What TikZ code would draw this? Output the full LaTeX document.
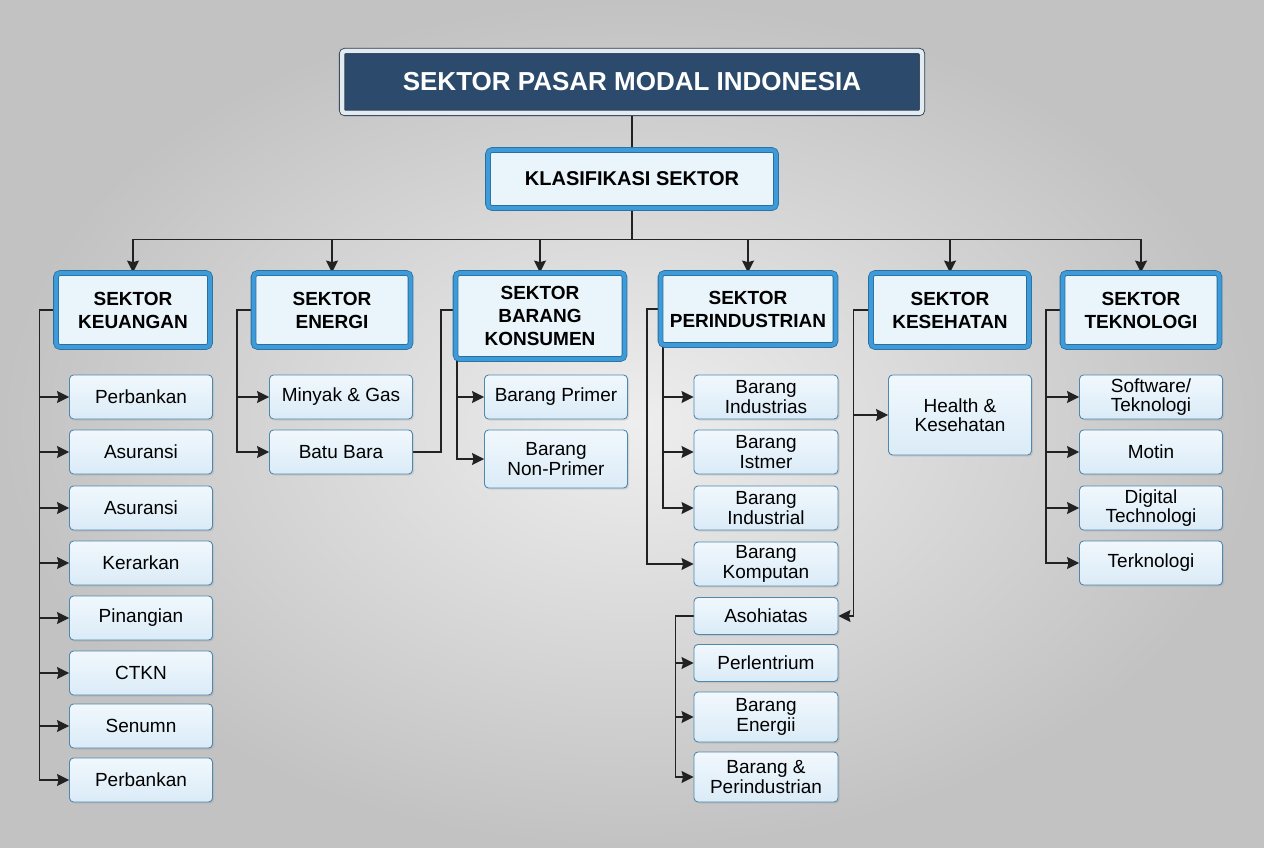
\documentclass[tikz,border=0pt]{standalone}
\usepackage{fontspec}
\setmainfont{Liberation Sans}
\usetikzlibrary{arrows.meta,positioning,shadows,backgrounds}

\definecolor{bgcenter}{HTML}{EEEEEE}
\definecolor{bgedge}{HTML}{C2C2C2}
\definecolor{navy}{HTML}{2C4B6C}
\definecolor{navyring}{HTML}{E3EBF1}
\definecolor{navyline}{HTML}{26394D}
\definecolor{biru}{HTML}{3C9BD8}
\definecolor{birugelap}{HTML}{2B6E9E}
\definecolor{isi}{HTML}{EAF4FB}
\definecolor{isiatas}{HTML}{F1F8FD}
\definecolor{isibawah}{HTML}{DAEBF7}
\definecolor{tepi}{HTML}{4F87AF}
\definecolor{garis}{HTML}{222222}

\begin{document}
\begin{tikzpicture}[x=1pt,y=-1pt]
    \tikzstyle{judul}=[rounded corners=3pt, fill=navy, draw=navyline, line width=0.8pt,
        double=navyring, double distance=4.5pt, text=white, inner sep=0pt,
        font=\fontsize{26}{30}\selectfont\bfseries,
        drop shadow={opacity=0.25,shadow xshift=2pt,shadow yshift=-2pt}]
    \tikzstyle{sektor}=[rounded corners=4pt, fill=isi, draw=birugelap, line width=0.8pt,
        double=biru, double distance=4pt, inner sep=0pt, align=center,
        font=\fontsize{19}{23}\selectfont\bfseries,
        drop shadow={opacity=0.25,shadow xshift=2pt,shadow yshift=-2pt}]
    \tikzstyle{sub}=[rounded corners=4pt, top color=isiatas, bottom color=isibawah, draw=tepi,
        line width=0.9pt, inner sep=0pt, align=center, minimum width=143pt, minimum height=44pt,
        font=\fontsize{19}{19.5}\selectfont,
        drop shadow={opacity=0.2,shadow xshift=1.5pt,shadow yshift=-1.5pt}]
    \tikzstyle{hub}=[draw=garis, line width=1.3pt]
    \tikzstyle{panah}=[hub, -{Stealth[length=12pt,width=12pt,inset=1.5pt]}]

    \useasboundingbox (0,0) rectangle (1264,848);

    % judul
    \node[judul, minimum width=580pt, minimum height=62pt] (pasar) at (632,82) {SEKTOR PASAR MODAL INDONESIA};
    \node[sektor, minimum width=288pt, minimum height=58pt, font=\fontsize{20}{24}\selectfont\bfseries]
        (klasifikasi) at (632,179) {KLASIFIKASI SEKTOR};

    % sektor
    \node[sektor, minimum width=154pt, minimum height=74pt] (keuangan) at (133,310) {SEKTOR\\KEUANGAN};
    \node[sektor, minimum width=157pt, minimum height=74pt] (energi) at (332,310) {SEKTOR\\ENERGI};
    \node[sektor, minimum width=169pt, minimum height=86pt] (konsumen) at (540,316) {SEKTOR\\BARANG\\KONSUMEN};
    \node[sektor, minimum width=175pt, minimum height=72pt] (industri) at (748,309) {SEKTOR\\PERINDUSTRIAN};
    \node[sektor, minimum width=158pt, minimum height=74pt] (kesehatan) at (950,310) {SEKTOR\\KESEHATAN};
    \node[sektor, minimum width=157pt, minimum height=74pt] (teknologi) at (1141,310) {SEKTOR\\TEKNOLOGI};

    % keuangan
    \node[sub] (keu1) at (141,397) {Perbankan};
    \node[sub] (keu2) at (141,452) {Asuransi};
    \node[sub] (keu3) at (141,508) {Asuransi};
    \node[sub] (keu4) at (141,563) {Kerarkan};
    \node[sub] (keu5) at (141,618) {Pinangian};
    \node[sub] (keu6) at (141,673) {CTKN};
    \node[sub] (keu7) at (141,726) {Senumn};
    \node[sub] (keu8) at (141,780) {Perbankan};

    % energi
    \node[sub] (ene1) at (341,397) {Minyak \& Gas};
    \node[sub] (ene2) at (341,452) {Batu Bara};

    % barang konsumen
    \node[sub] (kon1) at (556,397) {Barang Primer};
    \node[sub, minimum height=58pt] (kon2) at (556,459) {Barang\\Non-Primer};

    % perindustrian
    \node[sub, minimum width=144pt] (ind1) at (766,397) {Barang\\Industrias};
    \node[sub, minimum width=144pt] (ind2) at (766,452) {Barang\\Istmer};
    \node[sub, minimum width=144pt] (ind3) at (766,508) {Barang\\Industrial};
    \node[sub, minimum width=144pt] (ind4) at (766,564) {Barang\\Komputan};
    \node[sub, minimum width=144pt, minimum height=37pt] (ind5) at (766,616) {Asohiatas};
    \node[sub, minimum width=144pt, minimum height=37pt] (ind6) at (766,663) {Perlentrium};
    \node[sub, minimum width=144pt, minimum height=50pt] (ind7) at (766,717) {Barang\\Energii};
    \node[sub, minimum width=144pt, minimum height=50pt] (ind8) at (766,777) {Barang \&\\Perindustrian};

    % kesehatan
    \node[sub, minimum height=80pt] (kes1) at (960,415) {Health \&\\Kesehatan};

    % teknologi
    \node[sub] (tek1) at (1151,397) {Software/\\Teknologi};
    \node[sub] (tek2) at (1151,452) {Motin};
    \node[sub] (tek3) at (1151,508) {Digital\\Technologi};
    \node[sub] (tek4) at (1151,563) {Terknologi};

    \begin{scope}[on background layer]
        \shade[inner color=bgcenter, outer color=bgedge] (0,0) rectangle (1264,848);

        \draw[hub] (pasar.south) -- (klasifikasi.north);
        \foreach \s in {keuangan,energi,konsumen,industri,kesehatan,teknologi}
            \draw[panah] (klasifikasi.south) -- ++(0,31) -| (\s);

        \foreach \i in {1,...,8}
            \draw[panah] (keuangan.west) -- ++(-16,0) |- (keu\i);
        \foreach \i in {1,2}
            \draw[panah] (energi.west) -- ++(-16,0) |- (ene\i);
        \draw[hub] (ene2.east) -- ++(28,0) |- (konsumen.west |- energi.west);
        \foreach \i in {1,2}
            \draw[panah] ([xshift=2pt]konsumen.south west) |- (kon\i);

        \draw[panah] (industri.west) -- ++(-13,0) |- (ind4);
        \foreach \i in {1,2,3}
            \draw[panah] ([xshift=3pt]industri.south west) |- (ind\i);
        \foreach \i in {6,7,8}
            \draw[panah] (ind5.west) -- ++(-18,0) |- (ind\i);

        \draw[panah] (kesehatan.west) -- ++(-17,0) |- (kes1);
        \draw[panah] (kesehatan.west) -- ++(-17,0) |- (ind5);

        \foreach \i in {1,...,4}
            \draw[panah] (teknologi.west) -- ++(-16,0) |- (tek\i);
    \end{scope}
\end{tikzpicture}
\end{document}
